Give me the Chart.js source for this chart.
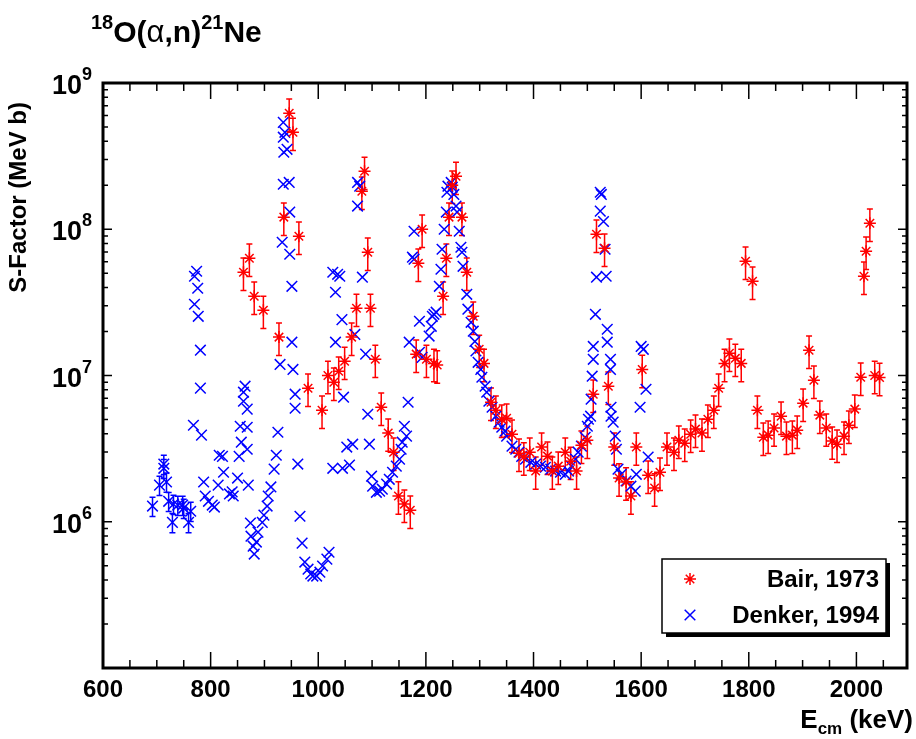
<!DOCTYPE html>
<html>
<head>
<meta charset="utf-8">
<script src="https://cdn.jsdelivr.net/npm/chart.js@4.4.1/dist/chart.umd.min.js"></script>
<style>
  html, body { margin: 0; padding: 0; background: #fff; }
  #wrap { width: 916px; height: 739px; }
</style>
</head>
<body>
<div id="wrap"><canvas id="myChart" width="916" height="739"></canvas></div>
<script>
// Bair, 1973  (E_cm in keV, S-factor in MeV b)
var bairE = [861, 872, 881, 898, 927, 936, 946, 953, 964, 981, 1007, 1018, 1029, 1038, 1049, 1062, 1071, 1081, 1086, 1092,
    1097, 1106, 1117, 1130, 1140, 1149, 1160, 1171, 1182, 1186, 1193, 1201, 1215, 1221, 1232, 1238, 1243, 1249, 1256, 1267,
    1276, 1288, 1299, 1308, 1321, 1330, 1341, 1350, 1360, 1373, 1382, 1393, 1404, 1415, 1426, 1435, 1446, 1459, 1469, 1480,
    1489, 1500, 1511, 1517, 1532, 1539, 1550, 1559, 1572, 1581, 1591, 1602, 1613, 1625, 1635, 1648, 1661, 1670, 1681, 1692,
    1701, 1713, 1724, 1735, 1744, 1755, 1764, 1775, 1786, 1794, 1807, 1816, 1827, 1836, 1847, 1860, 1870, 1881, 1890, 1901,
    1912, 1921, 1932, 1944, 1955, 1964, 1977, 1986, 1997, 2008, 2014, 2018, 2025, 2034, 2043];
var bairS = [5.08e7, 6.34e7, 3.48e7, 2.79e7, 1.83e7, 1.21e8, 6.21e8, 4.60e8, 8.95e7, 8.18e6, 5.79e6, 1.00e7, 9.00e6, 1.07e7, 1.25e7, 1.83e7, 2.88e7, 1.82e8, 2.49e8, 6.96e7,
    2.88e7, 1.29e7, 6.07e6, 4.04e6, 2.99e6, 1.50e6, 1.32e6, 1.20e6, 1.40e7, 5.86e7, 1.00e8, 1.29e7, 1.21e7, 1.18e7, 3.48e7, 6.34e7, 1.21e8, 2.00e8, 2.30e8, 1.21e8,
    5.08e7, 2.54e7, 1.51e7, 1.21e7, 6.56e6, 5.79e6, 5.02e6, 5.10e6, 3.97e6, 2.94e6, 2.77e6, 2.99e6, 2.22e6, 3.24e6, 2.81e6, 2.22e6, 2.40e6, 2.99e6, 2.59e6, 2.22e6,
    3.34e6, 3.61e6, 7.45e6, 9.25e7, 7.41e7, 8.45e6, 3.24e6, 1.99e6, 1.87e6, 1.50e6, 3.24e6, 1.10e7, 2.08e6, 1.70e6, 2.18e6, 3.24e6, 2.99e6, 3.61e6, 3.44e6, 3.97e6,
    4.30e6, 4.04e6, 5.02e6, 5.79e6, 8.18e6, 1.21e7, 1.42e7, 1.31e7, 1.21e7, 6.04e7, 4.41e7, 5.79e6, 3.78e6, 3.91e6, 4.37e6, 5.27e6, 3.85e6, 3.91e6, 4.23e6, 6.47e6,
    1.49e7, 9.29e6, 5.36e6, 4.37e6, 3.56e6, 3.39e6, 3.85e6, 4.57e6, 5.89e6, 9.73e6, 4.77e7, 7.08e7, 1.10e8, 1.00e7, 9.70e6];
var bairRelErr = 0.25;

// Denker, 1994
var denkerE = [692, 705, 713, 713, 718, 722, 729, 731, 739, 748, 750, 759, 763, 768, 770, 774, 776, 770, 777, 781,
    781, 783, 787, 790, 796, 803, 807, 814, 816, 822, 824, 835, 840, 842, 850, 853, 855, 857, 861, 861,
    864, 868, 868, 868, 870, 874, 875, 879, 881, 885, 888, 896, 899, 905, 907, 912, 918, 922, 925, 929,
    935, 938, 935, 942, 936, 935, 946, 947, 933, 947, 951, 951, 953, 957, 957, 962, 966, 970, 975, 981,
    986, 990, 997, 1003, 1008, 1016, 1020, 1027, 1027, 1032, 1032, 1036, 1040, 1044, 1045, 1047, 1053, 1058, 1064, 1068,
    1073, 1077, 1073, 1082, 1088, 1092, 1095, 1099, 1101, 1108, 1114, 1119, 1127, 1132, 1138, 1145, 1151, 1154, 1156, 1160,
    1164, 1167, 1169, 1175, 1178, 1178, 1188, 1188, 1193, 1206, 1210, 1212, 1215, 1219, 1225, 1228, 1230, 1234, 1238, 1239,
    1241, 1247, 1249, 1252, 1256, 1258, 1262, 1265, 1267, 1269, 1276, 1278, 1284, 1288, 1291, 1293, 1297, 1302, 1304, 1310,
    1313, 1317, 1323, 1330, 1336, 1341, 1347, 1350, 1360, 1367, 1373, 1378, 1385, 1395, 1404, 1413, 1422, 1432, 1441, 1450,
    1459, 1465, 1470, 1478, 1483, 1489, 1496, 1500, 1502, 1506, 1507, 1509, 1511, 1511, 1515, 1517, 1524, 1526, 1524, 1530,
    1533, 1535, 1537, 1537, 1543, 1543, 1544, 1544, 1548, 1552, 1554, 1557, 1563, 1572, 1581, 1589, 1591, 1598, 1600, 1604,
    1609, 1613];
var denkerS = [1.28e6, 1.78e6, 2.48e6, 2.32e6, 1.87e6, 1.38e6, 9.9e5, 1.32e6, 1.30e6, 1.30e6, 1.24e6, 9.9e5, 1.18e6, 4.57e6, 4.77e7, 5.16e7, 3.95e7, 3.07e7, 2.54e7, 1.49e7,
    8.2e6, 3.91e6, 1.87e6, 1.50e6, 1.38e6, 1.30e6, 1.26e6, 1.78e6, 2.85e6, 2.80e6, 2.18e6, 1.55e6, 1.60e6, 1.50e6, 1.99e6, 2.80e6, 4.50e6, 3.50e6, 6.67e6, 7.69e6,
    8.45e6, 5.89e6, 4.43e6, 3.13e6, 1.78e6, 9.8e5, 7.97e5, 6.81e5, 6.01e5, 7.26e5, 8.49e5, 9.9e5, 1.11e6, 1.28e6, 1.50e6, 1.73e6, 2.29e6, 2.85e6, 4.09e6, 1.19e7,
    5.38e8, 4.60e8, 4.26e8, 3.52e8, 3.36e8, 2.03e8, 2.09e8, 1.31e8, 8.15e7, 6.75e7, 4.07e7, 1.69e7, 1.10e7, 7.45e6, 5.97e6, 2.48e6, 1.09e6, 7.14e5, 5.30e5, 4.74e5,
    4.39e5, 4.25e5, 4.25e5, 4.52e5, 4.98e5, 5.55e5, 6.19e5, 2.32e6, 5.08e7, 3.71e7, 1.69e7, 4.92e7, 4.77e7, 2.41e7, 2.32e6, 7.11e6, 3.24e6, 2.44e6, 3.39e6, 1.91e7,
    2.09e8, 1.97e8, 1.44e8, 4.70e7, 1.40e7, 5.43e6, 3.39e6, 2.05e6, 1.75e6, 1.59e6, 1.62e6, 1.67e6, 1.81e6, 1.95e6, 2.18e6, 2.40e6, 2.68e6, 3.13e6, 3.50e6, 4.50e6,
    3.85e6, 6.56e6, 1.69e7, 6.44e7, 6.24e7, 9.69e7, 2.35e7, 1.44e7, 1.33e7, 1.86e7, 2.17e7, 2.54e7, 2.62e7, 2.71e7, 4.07e7, 5.33e7, 7.30e7, 1.00e8, 1.31e8, 1.79e8,
    1.97e8, 2.09e8, 1.94e8, 1.73e8, 1.44e8, 1.31e8, 9.69e7, 7.53e7, 6.96e7, 5.58e7, 3.59e7, 2.84e7, 2.31e7, 2.01e7, 1.71e7, 1.47e7, 1.23e7, 1.10e7, 9.73e6, 8.45e6,
    7.69e6, 6.67e6, 6.07e6, 5.27e6, 4.80e6, 4.43e6, 4.16e6, 3.85e6, 3.29e6, 3.13e6, 2.99e6, 2.80e6, 2.68e6, 2.55e6, 2.48e6, 2.40e6, 2.36e6, 2.29e6, 2.22e6, 2.18e6,
    2.11e6, 2.22e6, 2.40e6, 2.68e6, 2.99e6, 3.29e6, 3.78e6, 4.50e6, 5.02e6, 5.27e6, 6.89e6, 9.89e6, 1.29e7, 1.58e7, 2.62e7, 4.70e7, 1.79e8, 1.73e8, 1.33e8, 1.13e8,
    7.30e7, 4.77e7, 2.07e7, 1.69e7, 1.29e7, 1.10e7, 6.07e6, 5.27e6, 4.80e6, 3.85e6, 3.13e6, 2.29e6, 2.11e6, 1.90e6, 1.75e6, 1.62e6, 2.11e6, 6.07e6, 1.58e7, 1.51e7,
    8.05e6, 2.77e6];
var denkerRelErr = 0.15;   // bars only show at the low-energy end
var denkerErrMaxE = 765;

// axes
var xMin = 600, xMax = 2094;
var yMin = 1e5, yMax = 1e9;
var xTickLabels = [600, 800, 1000, 1200, 1400, 1600, 1800, 2000];
var yTickExponents = [6, 7, 8, 9];

var FONT = '"Liberation Sans", Arial, Helvetica, sans-serif';
var RED = '#ff0000';
var BLUE = '#0000ff';

function toPoints(xs, ys) {
    var pts = [];
    for (var i = 0; i < xs.length; i++) pts.push({x: xs[i], y: ys[i]});
    return pts;
}

// text made of pieces (for super/subscripts)
function runsWidth(ctx, runs) {
    var w = 0;
    runs.forEach(function(r) { ctx.font = r.font; w += ctx.measureText(r.t).width; });
    return w;
}
function drawRuns(ctx, x, y, runs) {
    ctx.textAlign = 'left';
    ctx.textBaseline = 'alphabetic';
    runs.forEach(function(r) {
        ctx.font = r.font;
        ctx.fillText(r.t, x, y + (r.dy || 0));
        x += ctx.measureText(r.t).width;
    });
}

function drawErrorBars(ctx, xs, ys, E, S, rel, maxE, color) {
    ctx.save();
    ctx.strokeStyle = color;
    ctx.lineWidth = 1.5;
    ctx.beginPath();
    for (var i = 0; i < E.length; i++) {
        if (maxE && E[i] > maxE) continue;
        var px = xs.getPixelForValue(E[i]);
        var hi = ys.getPixelForValue(S[i] * (1 + rel));
        var lo = ys.getPixelForValue(S[i] * (1 - rel));
        ctx.moveTo(px, hi); ctx.lineTo(px, lo);
        ctx.moveTo(px - 3, hi); ctx.lineTo(px + 3, hi);
        ctx.moveTo(px - 3, lo); ctx.lineTo(px + 3, lo);
    }
    ctx.stroke();
    ctx.restore();
}

function drawStar(ctx, x, y, r) {
    var d = r * Math.SQRT1_2;
    ctx.beginPath();
    ctx.moveTo(x - r, y); ctx.lineTo(x + r, y);
    ctx.moveTo(x, y - r); ctx.lineTo(x, y + r);
    ctx.moveTo(x - d, y - d); ctx.lineTo(x + d, y + d);
    ctx.moveTo(x - d, y + d); ctx.lineTo(x + d, y - d);
    ctx.stroke();
}
function drawX(ctx, x, y, h) {
    ctx.beginPath();
    ctx.moveTo(x - h, y - h); ctx.lineTo(x + h, y + h);
    ctx.moveTo(x - h, y + h); ctx.lineTo(x + h, y - h);
    ctx.stroke();
}

var decorations = {
    id: 'decorations',
    beforeDatasetsDraw: function(chart) {
        var ctx = chart.ctx, xs = chart.scales.x, ys = chart.scales.y;
        drawErrorBars(ctx, xs, ys, denkerE, denkerS, denkerRelErr, denkerErrMaxE, BLUE);
        drawErrorBars(ctx, xs, ys, bairE, bairS, bairRelErr, 0, RED);
    },
    afterDraw: function(chart) {
        var ctx = chart.ctx, xs = chart.scales.x, ys = chart.scales.y;
        var a = chart.chartArea;
        ctx.save();
        ctx.strokeStyle = '#000';
        ctx.fillStyle = '#000';

        // ticks, inside the frame on all four sides
        ctx.lineWidth = 1.5;
        ctx.beginPath();
        for (var v = xMin; v <= xMax; v += 50) {
            var px = xs.getPixelForValue(v);
            var len = (v % 200 === 0) ? 16 : 8;
            ctx.moveTo(px, a.bottom); ctx.lineTo(px, a.bottom - len);
            ctx.moveTo(px, a.top); ctx.lineTo(px, a.top + len);
        }
        for (var e = 5; e <= 8; e++) {
            for (var m = 1; m <= 9; m++) {
                var py = ys.getPixelForValue(m * Math.pow(10, e));
                var l = (m === 1) ? 9 : 5;
                ctx.moveTo(a.left, py); ctx.lineTo(a.left + l, py);
                ctx.moveTo(a.right, py); ctx.lineTo(a.right - l, py);
            }
        }
        ctx.stroke();

        // frame
        ctx.lineWidth = 3;
        ctx.strokeRect(a.left, a.top, a.right - a.left, a.bottom - a.top);

        // x tick labels
        ctx.font = 'bold 24px ' + FONT;
        ctx.textAlign = 'center';
        ctx.textBaseline = 'alphabetic';
        xTickLabels.forEach(function(t) {
            ctx.fillText(String(t), xs.getPixelForValue(t), 697);
        });

        // y tick labels 10^n
        yTickExponents.forEach(function(n) {
            var py = ys.getPixelForValue(Math.pow(10, n));
            ctx.textAlign = 'right';
            ctx.font = 'bold 18px ' + FONT;
            ctx.fillText(String(n), 92, py - 3);
            var sw = ctx.measureText(String(n)).width;
            ctx.font = 'bold 27px ' + FONT;
            ctx.fillText('10', 92 - sw, py + 11);
        });

        // title
        drawRuns(ctx, 91, 42, [
            {t: '18', font: 'bold 20px ' + FONT, dy: -13},
            {t: 'O(', font: 'bold 30px ' + FONT},
            {t: '\u03b1', font: '31px ' + FONT},
            {t: ',n)', font: 'bold 30px ' + FONT},
            {t: '21', font: 'bold 20px ' + FONT, dy: -13},
            {t: 'Ne', font: 'bold 30px ' + FONT}
        ]);

        // x axis title, right aligned
        var xt = [
            {t: 'E', font: 'bold 26px ' + FONT},
            {t: 'cm', font: 'bold 17px ' + FONT, dy: 6},
            {t: ' (keV)', font: 'bold 26px ' + FONT}
        ];
        drawRuns(ctx, 913 - runsWidth(ctx, xt), 728, xt);

        // y axis title, top aligned
        ctx.save();
        ctx.translate(19, 102);
        ctx.rotate(-Math.PI / 2);
        ctx.font = 'bold 24px ' + FONT;
        ctx.textAlign = 'right';
        ctx.textBaseline = 'middle';
        ctx.fillText('S-Factor (MeV b)', 0, 0);
        ctx.restore();

        // legend box with shadow
        ctx.fillStyle = '#000';
        ctx.fillRect(666, 563, 224, 74);
        ctx.fillStyle = '#fff';
        ctx.fillRect(662, 559, 224, 74);
        ctx.lineWidth = 1.5;
        ctx.strokeStyle = '#000';
        ctx.strokeRect(662, 559, 224, 74);

        ctx.strokeStyle = RED;
        drawStar(ctx, 690, 579, 6);
        ctx.strokeStyle = BLUE;
        drawX(ctx, 690, 615, 5.3);

        ctx.fillStyle = '#000';
        ctx.font = 'bold 24px ' + FONT;
        ctx.textAlign = 'right';
        ctx.textBaseline = 'alphabetic';
        ctx.fillText('Bair, 1973', 879, 587);
        ctx.fillText('Denker, 1994', 879, 623);
        ctx.restore();
    }
};

var ctx = document.getElementById('myChart').getContext('2d');
var myChart = new Chart(ctx, {
    type: 'scatter',
    data: {
        datasets: [{
            label: 'Bair, 1973',
            data: toPoints(bairE, bairS),
            pointStyle: 'star',
            pointRadius: 6,
            borderColor: RED,
            backgroundColor: RED,
            borderWidth: 1.5
        }, {
            label: 'Denker, 1994',
            data: toPoints(denkerE, denkerS),
            pointStyle: 'crossRot',
            pointRadius: 7.5,
            borderColor: BLUE,
            backgroundColor: BLUE,
            borderWidth: 1.5
        }]
    },
    options: {
        responsive: false,
        animation: false,
        events: [],
        devicePixelRatio: 1,
        layout: { padding: { left: 103, right: 5, top: 83, bottom: 71 } },
        scales: {
            x: { type: 'linear', min: xMin, max: xMax, display: false },
            y: { type: 'logarithmic', min: yMin, max: yMax, display: false }
        },
        plugins: {
            legend: { display: false },
            tooltip: { enabled: false }
        }
    },
    plugins: [decorations]
});
</script>
</body>
</html>
